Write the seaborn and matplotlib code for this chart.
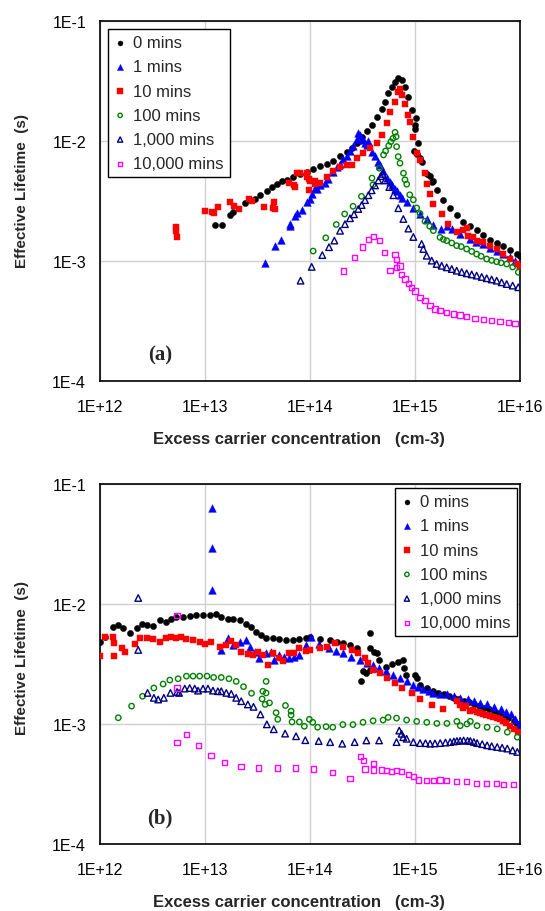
import numpy as np
import pandas as pd
import matplotlib
matplotlib.use("Agg")
import matplotlib.pyplot as plt
from matplotlib.ticker import FixedLocator, FixedFormatter, NullLocator
import seaborn as sns

# ---------------- DATA (log10 of concentration [cm-3], log10 of lifetime [s]) ----------------
series_labels = ["0 mins", "1 mins", "10 mins", "100 mins", "1,000 mins", "10,000 mins"]
x_ticks = [1e12, 1e13, 1e14, 1e15, 1e16]
x_tick_labels = ["1E+12", "1E+13", "1E+14", "1E+15", "1E+16"]
y_ticks = [1e-4, 1e-3, 1e-2, 1e-1]
y_tick_labels = ["1E-4", "1E-3", "1E-2", "1E-1"]

# ----- panel (a) -----
a0_lx = [13.095, 13.16, 13.24, 13.27, 13.38, 13.43, 13.48, 13.52, 13.59, 13.635, 13.683, 13.73, 13.778,
         13.841, 13.905, 13.968, 14.032, 14.095, 14.159, 14.222, 14.286, 14.349, 14.397, 14.444, 14.492,
         14.54, 14.587, 14.635, 14.683, 14.714, 14.746, 14.778, 14.81, 14.841, 14.873, 14.905, 14.937,
         14.968, 15.0, 15.032, 15.063, 15.111, 15.159, 15.206, 15.27, 15.333, 15.397, 15.46, 15.524,
         15.587, 15.651, 15.714, 15.778, 15.841, 15.905, 15.968, 16.0,
         15.01, 15.0, 14.99, 15.02, 15.05, 15.14, 15.17]
a0_ly = [-2.70, -2.70, -2.62, -2.59, -2.52, -2.49, -2.48, -2.45, -2.42, -2.384, -2.356, -2.337, -2.321,
         -2.301, -2.274, -2.255, -2.233, -2.211, -2.192, -2.164, -2.129, -2.09, -2.055, -2.014, -1.964,
         -1.918, -1.863, -1.80, -1.734, -1.671, -1.603, -1.548, -1.507, -1.479, -1.493, -1.548, -1.63,
         -1.74, -1.863, -2.014, -2.178, -2.274, -2.342, -2.411, -2.493, -2.562, -2.616, -2.671, -2.712,
         -2.74, -2.781, -2.822, -2.849, -2.877, -2.912, -2.945, -2.959,
         -1.81, -1.90, -2.08, -2.11, -2.14, -2.29, -2.33]

a1_lx = [13.57, 13.67, 13.72, 13.81, 13.81, 13.86, 13.88, 13.92, 13.97, 14.0, 14.02, 14.05, 14.063, 14.095,
         14.143, 14.175, 14.222, 14.254, 14.286, 14.317, 14.349, 14.381, 14.413, 14.444, 14.46, 14.476,
         14.492, 14.508, 14.524, 14.54, 14.556, 14.587, 14.619, 14.651, 14.667, 14.698, 14.73, 14.762,
         14.778, 14.81, 14.825, 14.857, 14.873, 14.921, 14.984, 15.048, 15.111, 15.175, 15.25, 15.30,
         15.35, 15.43, 15.52, 15.58, 15.65, 15.71, 15.78, 15.84, 15.90, 15.95, 16.0]
a1_ly = [-3.02, -2.875, -2.825, -2.69, -2.71, -2.625, -2.60, -2.575, -2.505, -2.48, -2.44, -2.39, -2.397, -2.37,
         -2.348, -2.315, -2.26, -2.219, -2.192, -2.151, -2.123, -2.082, -2.041, -1.986, -1.936, -1.953,
         -1.986, -1.992, -2.014, -2.033, -2.0, -2.088, -2.123, -2.178, -2.199, -2.254, -2.309, -2.342,
         -2.365, -2.397, -2.42, -2.452, -2.475, -2.512, -2.56, -2.608, -2.647, -2.699, -2.73, -2.71,
         -2.73, -2.775, -2.82, -2.84, -2.86, -2.89, -2.92, -2.945, -2.97, -3.0, -3.025]

a10_lx = [12.72, 12.72, 12.73, 13.0, 13.07, 13.085, 13.12, 13.24, 13.28, 13.32, 13.42, 13.45, 13.56, 13.66,
          13.67, 13.65, 13.80, 13.85, 13.86, 13.88, 13.97, 13.99, 13.99, 14.05, 13.905, 13.968, 14.0,
          14.048, 14.095, 14.159, 14.222, 14.286, 14.349, 14.397, 14.444, 14.508, 14.571, 14.635, 14.683,
          14.73, 14.762, 14.81, 14.841, 14.857, 14.873, 14.905, 14.937, 14.952, 14.984, 15.016, 15.048,
          15.095, 15.111, 15.143, 15.175, 15.254, 15.317, 15.397, 15.46, 15.492, 15.508, 15.55, 15.587,
          15.651, 15.714, 15.778, 15.841, 15.905, 15.968, 16.0]
a10_ly = [-2.72, -2.75, -2.80, -2.58, -2.59, -2.60, -2.55, -2.51, -2.54, -2.57, -2.48, -2.50, -2.55, -2.51,
          -2.57, -2.56, -2.35, -2.37, -2.38, -2.27, -2.27, -2.32, -2.41, -2.33, -2.268, -2.296, -2.337,
          -2.359, -2.351, -2.296, -2.254, -2.213, -2.199, -2.199, -2.144, -2.102, -2.061, -2.019, -1.95,
          -1.854, -1.757, -1.674, -1.591, -1.564, -1.619, -1.688, -1.785, -1.84, -1.964, -2.102, -2.157,
          -2.268, -2.358, -2.442, -2.525, -2.608, -2.692, -2.756, -2.74, -2.728, -2.789, -2.80, -2.831,
          -2.844, -2.872, -2.90, -2.942, -2.983, -3.025, -3.04]

a100_lx = [14.03, 14.15, 14.25, 14.33, 14.41, 14.49, 14.59, 14.60, 14.66, 14.70, 14.72, 14.75, 14.77, 14.79,
           14.81, 14.82, 14.825, 14.84, 14.857, 14.89, 14.905, 14.921, 14.95, 14.984, 15.016, 15.048,
           15.095, 15.14, 15.175, 15.238, 15.27, 15.302, 15.35, 15.397, 15.44, 15.492, 15.54, 15.587,
           15.63, 15.683, 15.73, 15.778, 15.82, 15.873, 15.93, 15.984]
a100_ly = [-2.917, -2.807, -2.696, -2.608, -2.544, -2.461, -2.309, -2.365, -2.227, -2.116, -2.083, -2.039,
           -2.006, -1.978, -1.928, -1.964, -2.047, -2.13, -2.185, -2.268, -2.323, -2.36, -2.448, -2.49,
           -2.558, -2.605, -2.669, -2.71, -2.747, -2.803, -2.82, -2.831, -2.85, -2.872, -2.88, -2.90, -2.92,
           -2.942, -2.96, -2.983, -2.995, -3.006, -3.015, -3.025, -3.05, -3.094]

a1000_lx = [13.91, 14.016, 14.117, 14.181, 14.232, 14.286, 14.333, 14.381, 14.419, 14.46, 14.492, 14.524,
            14.556, 14.587, 14.619, 14.651, 14.673, 14.692, 14.714, 14.755, 14.794, 14.841, 14.889, 14.937,
            14.984, 15.063, 15.079, 15.111, 15.159, 15.206, 15.254, 15.302, 15.35, 15.397, 15.445, 15.492,
            15.54, 15.587, 15.635, 15.683, 15.73, 15.778, 15.825, 15.873, 15.93, 15.984]
a1000_ly = [-3.164, -3.049, -2.951, -2.885, -2.83, -2.748, -2.693, -2.644, -2.611, -2.567, -2.534, -2.493,
            -2.452, -2.411, -2.37, -2.329, -2.293, -2.274, -2.329, -2.384, -2.452, -2.56, -2.65, -2.73,
            -2.80, -2.858, -2.9, -2.956, -2.997, -3.025, -3.04, -3.053, -3.067, -3.081, -3.092, -3.103,
            -3.112, -3.122, -3.133, -3.144, -3.154, -3.164, -3.178, -3.192, -3.205, -3.219]

a10000_lx = [14.317, 14.422, 14.498, 14.556, 14.603, 14.66, 14.708, 14.762, 14.81, 14.825, 14.825, 14.857,
             14.873, 14.905, 14.937, 14.968, 15.0, 15.048, 15.095, 15.143, 15.19, 15.238, 15.302, 15.365,
             15.429, 15.492, 15.571, 15.651, 15.73, 15.81, 15.889, 15.952]
a10000_ly = [-3.083, -2.972, -2.884, -2.82, -2.793, -2.829, -2.931, -3.077, -2.945, -2.986, -3.055, -3.041,
             -3.11, -3.15, -3.19, -3.22, -3.25, -3.303, -3.331, -3.372, -3.40, -3.414, -3.428, -3.442,
             -3.45, -3.461, -3.478, -3.489, -3.497, -3.506, -3.511, -3.519]

# ----- panel (b) -----
b0_lx = [12.0, 12.047, 12.127, 12.174, 12.222, 12.285, 12.348, 12.396, 12.443, 12.506, 12.57, 12.633, 12.68,
         12.728, 12.791, 12.854, 12.918, 12.981, 13.044, 13.101, 13.155, 13.218, 13.266, 13.329, 13.392,
         13.44, 13.487, 13.535, 13.582, 13.646, 13.709, 13.772, 13.835, 13.899, 13.962, 14.0, 14.095, 14.19,
         14.254, 14.317, 14.381, 14.444, 14.489, 14.505, 14.537, 14.569, 14.575, 14.575, 14.61, 14.639,
         14.658, 14.722, 14.78, 14.84, 14.888, 14.895, 14.914, 15.0, 15.016, 15.048, 15.112, 15.176, 15.22,
         15.272, 15.32, 15.367, 15.41, 15.463, 15.51, 15.559, 15.61, 15.655, 15.70, 15.751, 15.80, 15.847,
         15.89, 15.942, 15.97, 16.0]
b0_ly = [-2.314, -2.273, -2.19, -2.176, -2.204, -2.24, -2.204, -2.163, -2.171, -2.182, -2.135, -2.149, -2.121,
         -2.107, -2.107, -2.099, -2.088, -2.094, -2.088, -2.08, -2.107, -2.121, -2.127, -2.135, -2.163,
         -2.19, -2.231, -2.259, -2.281, -2.281, -2.292, -2.30, -2.30, -2.292, -2.287, -2.274, -2.288, -2.301,
         -2.315, -2.329, -2.342, -2.37, -2.644, -2.562, -2.575, -2.548, -2.238, -2.364, -2.40, -2.411,
         -2.466, -2.521, -2.50, -2.48, -2.466, -2.534, -2.589, -2.589, -2.616, -2.671, -2.699, -2.721, -2.74,
         -2.753, -2.77, -2.781, -2.795, -2.808, -2.82, -2.836, -2.85, -2.863, -2.875, -2.89, -2.91, -2.932,
         -2.95, -2.973, -3.0, -3.041]

b1_lx = [13.063, 13.063, 13.063, 13.155, 13.218, 13.266, 13.329, 13.392, 13.424, 13.472, 13.519, 13.582,
         13.63, 13.661, 13.709, 13.756, 13.804, 13.851, 13.899, 13.962, 14.01, 14.09, 14.185, 14.25, 14.313,
         14.39, 14.473, 14.54, 14.601, 14.66, 14.728, 14.79, 14.856, 14.92, 14.984, 15.03, 15.08, 15.13,
         15.176, 15.24, 15.304, 15.37, 15.431, 15.50, 15.559, 15.62, 15.687, 15.75, 15.815, 15.87, 15.911,
         15.95, 15.99]
b1_ly = [-1.198, -1.537, -1.882, -2.383, -2.287, -2.342, -2.314, -2.30, -2.355, -2.397, -2.446, -2.41,
         -2.397, -2.466, -2.424, -2.438, -2.452, -2.438, -2.424, -2.342, -2.274, -2.33, -2.37, -2.39, -2.411,
         -2.44, -2.466, -2.49, -2.507, -2.535, -2.562, -2.59, -2.616, -2.645, -2.671, -2.69, -2.712, -2.727,
         -2.74, -2.747, -2.753, -2.767, -2.781, -2.795, -2.808, -2.822, -2.836, -2.856, -2.877, -2.897,
         -2.918, -2.955, -3.0]

b10_lx = [12.0, 12.047, 12.127, 12.133, 12.133, 12.206, 12.237, 12.332, 12.38, 12.443, 12.506, 12.57, 12.633,
          12.68, 12.728, 12.775, 12.823, 12.886, 12.949, 12.997, 13.06, 13.139, 13.203, 13.25, 13.297,
          13.345, 13.408, 13.456, 13.503, 13.551, 13.598, 13.646, 13.709, 13.741, 13.804, 13.851, 13.899,
          13.962, 14.0, 14.095, 14.159, 14.238, 14.317, 14.397, 14.46, 14.524, 14.556, 14.603, 14.667,
          14.73, 14.81, 14.873, 14.968, 15.048, 15.159, 15.27, 15.397, 15.43, 15.46, 15.49, 15.524, 15.555,
          15.587, 15.62, 15.651, 15.68, 15.714, 15.745, 15.778, 15.81, 15.841, 15.87, 15.905, 15.94, 15.984]
b10_ly = [-2.43, -2.273, -2.273, -2.328, -2.43, -2.364, -2.397, -2.336, -2.287, -2.287, -2.292, -2.314, -2.287,
          -2.273, -2.287, -2.273, -2.292, -2.30, -2.32, -2.336, -2.314, -2.355, -2.342, -2.309, -2.342,
          -2.402, -2.419, -2.424, -2.397, -2.424, -2.507, -2.41, -2.452, -2.479, -2.41, -2.41, -2.369,
          -2.388, -2.384, -2.37, -2.356, -2.329, -2.356, -2.384, -2.411, -2.452, -2.493, -2.548, -2.575,
          -2.616, -2.658, -2.699, -2.74, -2.795, -2.844, -2.877, -2.808, -2.84, -2.863, -2.85, -2.89, -2.88,
          -2.904, -2.91, -2.918, -2.925, -2.932, -2.94, -2.951, -2.96, -2.973, -2.99, -3.014, -3.04, -3.068]

b100_lx = [12.174, 12.301, 12.405, 12.513, 12.601, 12.665, 12.744, 12.823, 12.886, 12.949, 13.019, 13.082,
           13.155, 13.228, 13.297, 13.367, 13.443, 13.544, 13.551, 13.573, 13.582, 13.582, 13.614, 13.677,
           13.693, 13.766, 13.82, 13.82, 13.829, 13.899, 13.946, 13.994, 14.026, 14.073, 14.153, 14.217,
           14.313, 14.409, 14.505, 14.601, 14.696, 14.744, 14.824, 14.92, 15.016, 15.112, 15.208, 15.304,
           15.399, 15.431, 15.495, 15.527, 15.591, 15.687, 15.783, 15.879, 15.974]
b100_ly = [-2.948, -2.851, -2.769, -2.70, -2.667, -2.634, -2.623, -2.601, -2.601, -2.601, -2.601, -2.612,
           -2.612, -2.623, -2.645, -2.689, -2.744, -2.791, -2.727, -2.837, -2.645, -2.741, -2.824, -2.906,
           -2.961, -2.846, -2.893, -2.926, -2.983, -2.983, -3.019, -2.961, -2.986, -3.027, -3.022, -3.027,
           -3.005, -3.005, -2.986, -2.973, -2.967, -2.945, -2.951, -2.967, -2.978, -2.986, -2.995, -2.995,
           -2.978, -3.014, -3.0, -2.978, -3.014, -3.027, -3.041, -3.068, -3.11]

b1000_lx = [12.364, 12.364, 12.453, 12.513, 12.554, 12.608, 12.671, 12.734, 12.753, 12.807, 12.854, 12.902,
            12.934, 12.981, 13.028, 13.076, 13.123, 13.155, 13.203, 13.25, 13.297, 13.345, 13.408, 13.462,
            13.528, 13.589, 13.655, 13.763, 13.867, 13.955, 14.083, 14.192, 14.307, 14.425, 14.537, 14.658,
            14.824, 14.85, 14.872, 14.888, 14.92, 14.984, 15.048, 15.144, 15.24, 15.335, 15.399, 15.463,
            15.527, 15.591, 15.687, 15.783, 15.879, 15.974, 15.1, 15.19, 15.29, 15.37, 15.43, 15.5, 15.56,
            15.64, 15.73, 15.83, 15.93]
b1000_ly = [-1.95, -2.383, -2.741, -2.782, -2.796, -2.782, -2.741, -2.733, -2.741, -2.705, -2.70, -2.705,
            -2.722, -2.705, -2.705, -2.722, -2.727, -2.727, -2.741, -2.749, -2.782, -2.81, -2.837, -2.857,
            -2.92, -3.003, -3.044, -3.08, -3.102, -3.135, -3.142, -3.151, -3.164, -3.151, -3.137, -3.137,
            -3.151, -3.055, -3.082, -3.11, -3.123, -3.151, -3.159, -3.164, -3.159, -3.151, -3.142, -3.137,
            -3.142, -3.159, -3.178, -3.192, -3.205, -3.233, -3.16, -3.162, -3.155, -3.146, -3.14, -3.14, -3.15,
            -3.168, -3.185, -3.198, -3.22]

b10000_lx = [12.734, 12.734, 12.734, 12.823, 12.937, 13.057, 13.184, 13.342, 13.509, 13.693, 13.861, 14.032,
             14.213, 14.381, 14.483, 14.508, 14.524, 14.603, 14.603, 14.683, 14.73, 14.778, 14.825, 14.873,
             14.937, 14.984, 15.032, 15.111, 15.175, 15.238, 15.302, 15.397, 15.492, 15.587, 15.683, 15.778,
             15.841, 15.937]
b10000_ly = [-2.094, -2.70, -3.154, -3.088, -3.182, -3.264, -3.322, -3.353, -3.366, -3.366, -3.366, -3.375,
             -3.405, -3.452, -3.274, -3.307, -3.375, -3.329, -3.384, -3.384, -3.389, -3.397, -3.389, -3.397,
             -3.419, -3.438, -3.466, -3.471, -3.471, -3.466, -3.471, -3.479, -3.479, -3.493, -3.493, -3.493,
             -3.507, -3.507]

panel_a = [(a0_lx, a0_ly), (a1_lx, a1_ly), (a10_lx, a10_ly), (a100_lx, a100_ly),
           (a1000_lx, a1000_ly), (a10000_lx, a10000_ly)]
panel_b = [(b0_lx, b0_ly), (b1_lx, b1_ly), (b10_lx, b10_ly), (b100_lx, b100_ly),
           (b1000_lx, b1000_ly), (b10000_lx, b10000_ly)]

# ---------------- STYLE ----------------
styles = [
    dict(marker="o", color="#000000", filled=True, s=20),
    dict(marker="^", color="#0000FF", filled=True, s=30),
    dict(marker="s", color="#FF0000", filled=True, s=22),
    dict(marker="o", color="#008000", filled=False, s=15),
    dict(marker="^", color="#000080", filled=False, s=22),
    dict(marker="s", color="#FF00FF", filled=False, s=14),
]

sns.set_style("white")
plt.rcParams["font.family"] = ["Liberation Sans", "DejaVu Sans"]

W, H = 545, 912
fig = plt.figure(figsize=(W / 100, H / 100), dpi=100)
ax_a = fig.add_axes([100 / W, 1 - 382 / H, 420 / W, 360 / H])
ax_b = fig.add_axes([100 / W, 1 - 845 / H, 420 / W, 360 / H])


def draw(ax, data, tag, legend_anchor, legend_loc, ylab_y):
    for (lx, ly), st, lab in zip(data, styles, series_labels):
        df = pd.DataFrame({"x": np.power(10.0, lx), "y": np.power(10.0, ly)})
        if st["filled"]:
            sns.scatterplot(data=df, x="x", y="y", ax=ax, marker=st["marker"], color=st["color"],
                            edgecolor=st["color"], linewidth=0.3, s=st["s"], label=lab, zorder=3)
        else:
            sns.scatterplot(data=df, x="x", y="y", ax=ax, marker=st["marker"], color=st["color"],
                            facecolor="none", edgecolor=st["color"], linewidth=1.0, s=st["s"],
                            label=lab, zorder=3)
    ax.set_xscale("log")
    ax.set_yscale("log")
    ax.set_xlim(1e12, 1e16)
    ax.set_ylim(1e-4, 1e-1)
    ax.xaxis.set_major_locator(FixedLocator(x_ticks))
    ax.xaxis.set_major_formatter(FixedFormatter(x_tick_labels))
    ax.yaxis.set_major_locator(FixedLocator(y_ticks))
    ax.yaxis.set_major_formatter(FixedFormatter(y_tick_labels))
    ax.xaxis.set_minor_locator(NullLocator())
    ax.yaxis.set_minor_locator(NullLocator())
    ax.grid(True, which="major", color="#d0d0d0", linewidth=1.0, zorder=0)
    ax.set_axisbelow(True)
    ax.tick_params(axis="x", length=0, pad=13, labelsize=11.5, colors="#000000")
    ax.tick_params(axis="y", length=0, pad=10, labelsize=11.5, colors="#000000")
    for sp in ax.spines.values():
        sp.set_color("#000000")
        sp.set_linewidth(1.2)
    ax.set_xlabel("Excess carrier concentration   (cm-3)", fontsize=12, fontweight="bold")
    ax.set_ylabel("Effective Lifetime  (s)", fontsize=11, fontweight="bold")
    ax.xaxis.set_label_coords(0.474, -0.14)
    ax.yaxis.set_label_coords(-0.17, ylab_y)
    ax.text(0.143, 0.075, tag, transform=ax.transAxes, ha="center", va="center",
            fontsize=15, fontweight="bold", family=["Liberation Serif", "DejaVu Serif"])
    leg = ax.legend(loc=legend_loc, bbox_to_anchor=legend_anchor, borderaxespad=0,
                    frameon=True, fancybox=False, fontsize=12, handlelength=0.7,
                    handletextpad=0.45, borderpad=0.38, labelspacing=0.55, markerscale=0.8)
    leg.get_frame().set_edgecolor("#000000")
    leg.get_frame().set_linewidth(1.0)
    leg.get_frame().set_facecolor("white")
    leg.get_frame().set_alpha(1)


draw(ax_a, panel_a, "(a)", (0.019, 0.978), "upper left", 0.53)
draw(ax_b, panel_b, "(b)", (0.993, 0.989), "upper right", 0.52)

fig.savefig("out.png", dpi=100, facecolor="white")
